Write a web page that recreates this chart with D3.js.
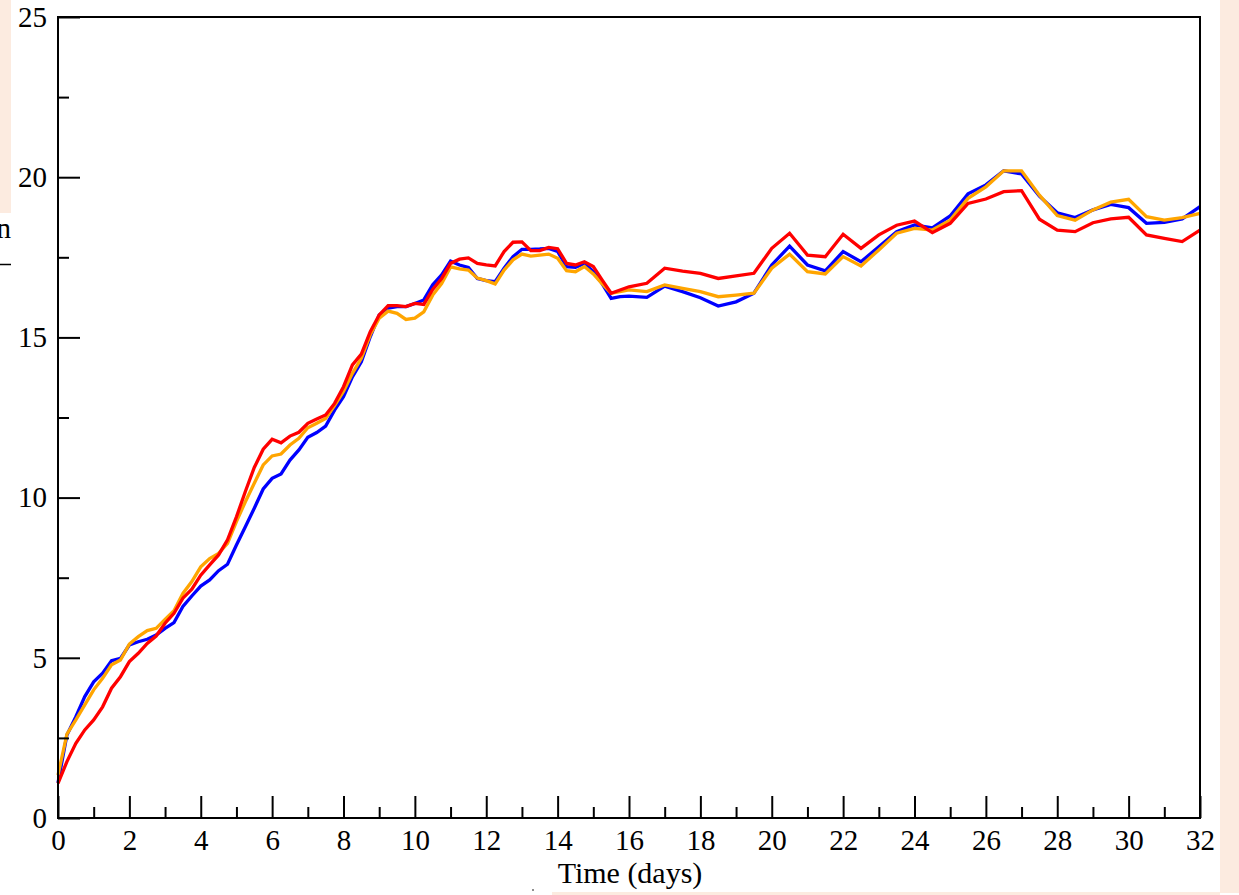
<!DOCTYPE html>
<html>
<head>
<meta charset="utf-8">
<script src="https://cdn.jsdelivr.net/npm/d3@7"></script>
<style>
  html, body { margin: 0; padding: 0; background: #ffffff; }
  svg { display: block; }
  text { font-family: "Liberation Serif", "Times New Roman", serif; fill: #000; }
</style>
</head>
<body>
<svg id="chart" width="1239" height="895"></svg>
<script>
// Sampling times (days): quarter-day steps to day 16, then half-day steps
const timesFine = [0, 0.25, 0.5, 0.75, 1, 1.25, 1.5, 1.75, 2, 2.25, 2.5, 2.75, 3, 3.25, 3.5, 3.75,
  4, 4.25, 4.5, 4.75, 5, 5.25, 5.5, 5.75, 6, 6.25, 6.5, 6.75, 7, 7.25, 7.5, 7.75,
  8, 8.25, 8.5, 8.75, 9, 9.25, 9.5, 9.75, 10, 10.25, 10.5, 10.75, 11, 11.25, 11.5, 11.75,
  12, 12.25, 12.5, 12.75, 13, 13.25, 13.5, 13.75, 14, 14.25, 14.5, 14.75, 15, 15.25, 15.5, 15.75, 16];
const timesCoarse = [16.5, 17, 17.5, 18, 18.5, 19, 19.5, 20, 20.5, 21, 21.5, 22, 22.5, 23, 23.5, 24,
  24.5, 25, 25.5, 26, 26.5, 27, 27.5, 28, 28.5, 29, 29.5, 30, 30.5, 31, 31.5, 32];
const times = timesFine.concat(timesCoarse);

const blueValues = [1.1, 2.59, 3.16, 3.79, 4.25, 4.52, 4.91, 4.98, 5.4, 5.5, 5.58, 5.71, 5.92, 6.1, 6.6, 6.93,
  7.24, 7.43, 7.72, 7.92, 8.52, 9.09, 9.67, 10.27, 10.6, 10.74, 11.17, 11.49, 11.88, 12.03, 12.23, 12.73,
  13.15, 13.77, 14.24, 15.02, 15.7, 15.91, 15.96, 15.96, 16.06, 16.17, 16.64, 16.95, 17.38, 17.26, 17.18, 16.84,
  16.77, 16.74, 17.16, 17.52, 17.75, 17.75, 17.76, 17.78, 17.68, 17.21, 17.19, 17.31, 17.05, 16.67, 16.22, 16.27, 16.29,
  16.25, 16.6, 16.43, 16.24, 15.98, 16.11, 16.38, 17.26, 17.85, 17.26, 17.08, 17.68, 17.36, 17.83, 18.3, 18.51,
  18.42, 18.79, 19.48, 19.76, 20.2, 20.1, 19.41, 18.89, 18.74, 18.98, 19.15, 19.05, 18.56, 18.59, 18.7, 19.08];

const orangeValues = [1.34, 2.62, 3.06, 3.53, 4.0, 4.36, 4.78, 4.93, 5.43, 5.66, 5.85, 5.92, 6.2, 6.47, 7.01, 7.38,
  7.84, 8.1, 8.26, 8.57, 9.25, 9.87, 10.45, 11.02, 11.3, 11.36, 11.64, 11.85, 12.18, 12.32, 12.47, 12.87,
  13.31, 13.88, 14.35, 15.08, 15.6, 15.82, 15.75, 15.56, 15.6, 15.8, 16.32, 16.68, 17.2, 17.14, 17.1, 16.85,
  16.77, 16.67, 17.1, 17.42, 17.6, 17.54, 17.57, 17.6, 17.47, 17.08, 17.05, 17.21, 16.98, 16.67, 16.38, 16.43, 16.48,
  16.43, 16.64, 16.53, 16.43, 16.27, 16.32, 16.38, 17.16, 17.6, 17.05, 16.98, 17.52, 17.23, 17.73, 18.25, 18.4,
  18.35, 18.66, 19.34, 19.7, 20.2, 20.2, 19.44, 18.8, 18.66, 18.98, 19.22, 19.31, 18.77, 18.66, 18.74, 18.87];

const redValues = [1.08, 1.76, 2.33, 2.75, 3.06, 3.47, 4.05, 4.41, 4.88, 5.14, 5.45, 5.68, 6.08, 6.39, 6.86, 7.14,
  7.58, 7.9, 8.21, 8.68, 9.4, 10.19, 10.94, 11.51, 11.82, 11.71, 11.92, 12.04, 12.32, 12.45, 12.58, 12.94,
  13.46, 14.14, 14.48, 15.18, 15.7, 15.99, 15.99, 15.96, 16.06, 16.03, 16.5, 16.84, 17.31, 17.44, 17.48, 17.31,
  17.26, 17.23, 17.68, 17.97, 17.98, 17.71, 17.71, 17.81, 17.77, 17.31, 17.26, 17.36, 17.21, 16.79, 16.38, 16.48, 16.58,
  16.69, 17.16, 17.07, 17.0, 16.84, 16.92, 17.0, 17.78, 18.25, 17.57, 17.52, 18.22, 17.78, 18.2, 18.5, 18.63,
  18.27, 18.56, 19.18, 19.32, 19.55, 19.58, 18.69, 18.35, 18.3, 18.58, 18.7, 18.75, 18.2, 18.09, 17.99, 18.35];

const xMajorTicks = [0, 2, 4, 6, 8, 10, 12, 14, 16, 18, 20, 22, 24, 26, 28, 30, 32];
const xMinorTicks = [1, 3, 5, 7, 9, 11, 13, 15, 17, 19, 21, 23, 25, 27, 29, 31];
const yMajorTicks = [0, 5, 10, 15, 20, 25];
const yMinorTicks = [2.5, 7.5, 12.5, 17.5, 22.5];
const xTitle = "Time (days)";

const series = [
  { name: "blue", color: "#0000ff", values: blueValues },
  { name: "orange", color: "#ffa500", values: orangeValues },
  { name: "red", color: "#ff0000", values: redValues }
];

const svg = d3.select("#chart");
const plot = { left: 58, right: 1200, top: 17, bottom: 818 };

const x = d3.scaleLinear().domain([0, 32]).range([plot.left, plot.right]);
const y = d3.scaleLinear().domain([0, 25]).range([plot.bottom, plot.top]);

// Page decorations around the plot
const peach = "#fcebe0";
svg.append("rect").attr("x", 0).attr("y", 0).attr("width", 11).attr("height", 213).attr("fill", peach);
svg.append("rect").attr("x", 1220).attr("y", 0).attr("width", 19).attr("height", 893).attr("fill", peach);
svg.append("rect").attr("x", 552).attr("y", 892).attr("width", 668).attr("height", 3).attr("fill", peach);
svg.append("text").attr("x", 11).attr("y", 238).attr("text-anchor", "end")
  .style("font-size", "29px").text("n");
svg.append("line").attr("x1", 0).attr("x2", 11).attr("y1", 264.5).attr("y2", 264.5)
  .attr("stroke", "#000").attr("stroke-width", 1.5);
svg.append("circle").attr("cx", 533).attr("cy", 890).attr("r", 0.8).attr("fill", "#000");

// Series lines
const line = d3.line()
  .x((d, i) => x(times[i]))
  .y(d => y(d));

svg.append("g").selectAll("path")
  .data(series)
  .join("path")
  .attr("d", d => line(d.values))
  .attr("fill", "none")
  .attr("stroke", d => d.color)
  .attr("stroke-width", 3.3)
  .attr("stroke-linejoin", "miter");

// Axes with inward ticks
const xAxisMajor = d3.axisBottom(x).tickValues(xMajorTicks).tickSize(-22).tickPadding(11).tickFormat(d3.format("d"));
const xAxisMinor = d3.axisBottom(x).tickValues(xMinorTicks).tickSize(-11).tickFormat("");
const yAxisMajor = d3.axisLeft(y).tickValues(yMajorTicks).tickSize(-22).tickPadding(11).tickFormat(d3.format("d"));
const yAxisMinor = d3.axisLeft(y).tickValues(yMinorTicks).tickSize(-11).tickFormat("");

function styleAxis(g) {
  g.select(".domain").remove();
  g.selectAll(".tick line").attr("stroke", "#000").attr("stroke-width", 2);
  g.selectAll(".tick text")
    .style("font-family", '"Liberation Serif", "Times New Roman", serif')
    .style("font-size", "29px").attr("fill", "#000");
}

svg.append("g").attr("transform", `translate(0,${plot.bottom})`).call(xAxisMajor).call(styleAxis);
svg.append("g").attr("transform", `translate(0,${plot.bottom})`).call(xAxisMinor).call(styleAxis);
svg.append("g").attr("transform", `translate(${plot.left},0)`).call(yAxisMajor).call(styleAxis);
svg.append("g").attr("transform", `translate(${plot.left},0)`).call(yAxisMinor).call(styleAxis);

// Frame
svg.append("rect")
  .attr("x", plot.left).attr("y", plot.top)
  .attr("width", plot.right - plot.left).attr("height", plot.bottom - plot.top)
  .attr("fill", "none").attr("stroke", "#000").attr("stroke-width", 2);

// Axis title
svg.append("text")
  .attr("x", (plot.left + plot.right) / 2 + 1).attr("y", 883)
  .attr("text-anchor", "middle")
  .style("font-size", "30px")
  .text(xTitle);
</script>
</body>
</html>
